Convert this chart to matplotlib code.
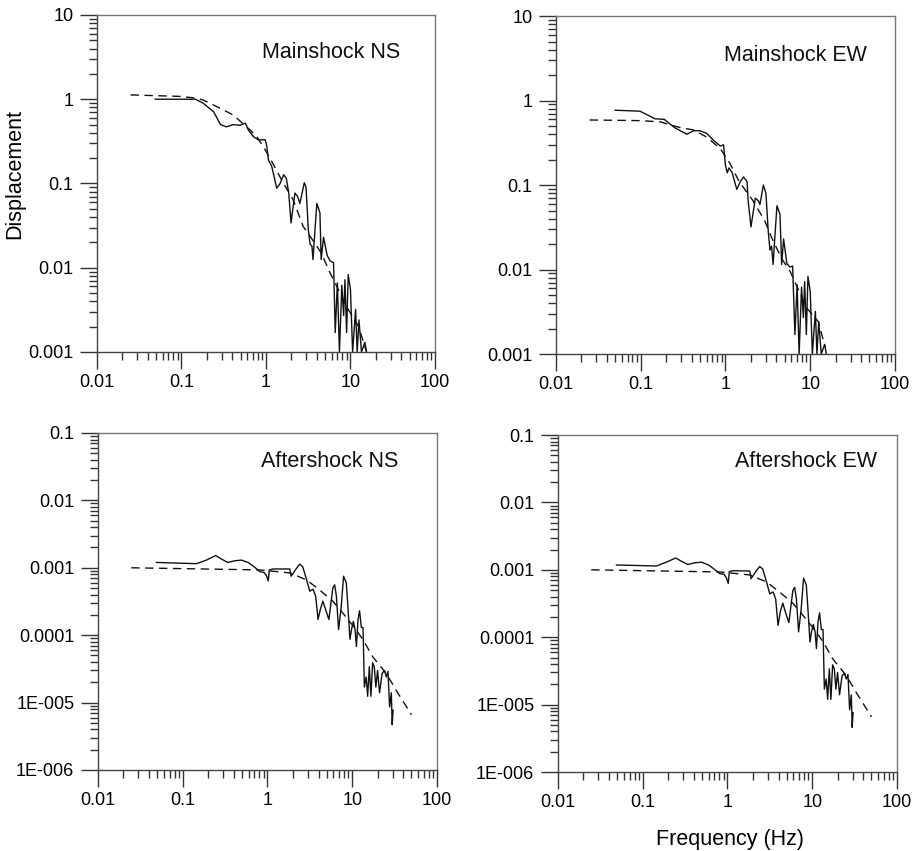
import numpy as np
import matplotlib
matplotlib.use("Agg")
import matplotlib.pyplot as plt
from matplotlib.ticker import LogLocator, FixedLocator, FixedFormatter, NullFormatter

plt.rcParams['font.family'] = ['Liberation Sans', 'DejaVu Sans']

# ---- mainshock NS ----
ms_ns_f = [0.049, 0.146, 0.18, 0.24, 0.29, 0.34, 0.41, 0.49, 0.57, 0.62, 0.71, 0.81, 0.98,
           1.02, 1.07, 1.17, 1.34, 1.47, 1.62, 1.74, 1.86, 1.98, 2.2, 2.37, 2.52, 2.84, 2.98,
           3.17, 3.33, 3.5, 3.6, 3.8, 4.0, 4.35, 4.5, 4.8, 5.3, 5.75, 6.3, 6.6, 7.0, 7.4, 7.9,
           8.3, 8.6, 9.0, 9.4, 10.0, 10.6, 11.0, 11.5, 12.0, 12.6, 13.5, 14.8, 15.5]
ms_ns_a = [1.0, 1.0, 0.90, 0.71, 0.50, 0.47, 0.50, 0.49, 0.52, 0.43, 0.36, 0.33, 0.33,
           0.28, 0.19, 0.16, 0.088, 0.10, 0.127, 0.115, 0.077, 0.034, 0.077, 0.070, 0.058, 0.102, 0.09,
           0.028, 0.019, 0.018, 0.0125, 0.028, 0.058, 0.045, 0.0125, 0.023, 0.014, 0.012, 0.0115, 0.0017, 0.0066, 0.001, 0.0062,
           0.0027, 0.0072, 0.0017, 0.0083, 0.0055, 0.001, 0.0017, 0.0032, 0.001, 0.0024, 0.001, 0.0013, 0.001]
ms_ns_model_f = [0.025, 0.097, 0.15, 0.18, 0.26, 0.41, 0.65, 0.78, 0.98, 1.2, 1.53, 2.1, 2.75,
                 3.78, 4.5, 5.7, 9.4, 12.5, 15.5]
ms_ns_model_a = [1.125, 1.08, 1.03, 0.98, 0.82, 0.65, 0.43, 0.36, 0.25, 0.175, 0.11, 0.064, 0.031,
                 0.0196, 0.015, 0.0088, 0.0032, 0.0020, 0.0010]

# ---- mainshock EW ----
ms_ew_f = [0.05, 0.098, 0.147, 0.19, 0.25, 0.35, 0.42, 0.5, 0.6, 0.72, 0.87, 0.95, 1.0,
           1.05, 1.1, 1.2, 1.36, 1.5, 1.63, 1.8, 1.85, 2.0, 2.25, 2.45, 2.55, 2.8, 3.0,
           3.2, 3.35, 3.5, 3.65, 3.8, 4.05, 4.4, 4.6, 4.85, 5.3, 5.75, 6.2, 6.6, 7.0, 7.4,
           7.9, 8.3, 8.6, 9.0, 9.4, 10.0, 10.6, 11.0, 11.5, 12.0, 12.6, 13.5, 14.8, 15.5]
ms_ew_a = [0.77, 0.75, 0.61, 0.60, 0.48, 0.40, 0.44, 0.44, 0.41, 0.34, 0.29, 0.30, 0.17,
           0.14, 0.16, 0.14, 0.089, 0.11, 0.125, 0.11, 0.066, 0.032, 0.07, 0.065, 0.059, 0.1, 0.08,
           0.028, 0.017, 0.019, 0.0115, 0.022, 0.057, 0.045, 0.0115, 0.023, 0.0118, 0.0107, 0.011, 0.0017, 0.0066, 0.001,
           0.0062, 0.0027, 0.0072, 0.0017, 0.0083, 0.0055, 0.001, 0.0017, 0.0032, 0.001, 0.0024, 0.001, 0.0013, 0.001]
ms_ew_model_f = [0.025, 0.098, 0.17, 0.29, 0.42, 0.6, 0.87, 1.13, 1.45, 2.1, 2.9, 3.5, 4.6,
                 5.8, 9.1, 12.5, 15.0]
ms_ew_model_a = [0.59, 0.58, 0.56, 0.48, 0.45, 0.37, 0.27, 0.18, 0.11, 0.066, 0.038, 0.024, 0.0135,
                 0.0095, 0.0035, 0.0024, 0.0012]

# ---- aftershock NS ----
as_ns_f = [0.049, 0.145, 0.19, 0.245, 0.28, 0.34, 0.41, 0.49, 0.59, 0.68, 0.81, 0.91, 0.97,
           1.02, 1.05, 1.16, 1.83, 1.9, 2.2, 2.4, 2.6, 2.9, 3.15, 3.45, 3.7, 3.95, 4.2,
           4.5, 4.85, 5.3, 5.9, 6.2, 6.5, 6.9, 7.4, 7.9, 8.5, 8.9, 9.4, 9.8, 10.3, 10.8,
           11.2, 11.7, 12.2, 12.8, 13.4, 13.9, 14.6, 15.2, 15.9, 16.6, 17.4, 18.2, 19.0,
           19.9, 21.0, 22.5, 24.0, 25.2, 26.4, 27.6, 28.9, 29.6, 30.3]
as_ns_a = [1.2e-3, 1.15e-3, 1.30e-3, 1.52e-3, 1.37e-3, 1.2e-3, 1.27e-3, 1.30e-3, 1.20e-3, 1.06e-3, 8.8e-4, 8.5e-4, 7.7e-4,
           6.4e-4, 9.3e-4, 9.6e-4, 9.6e-4, 7.5e-4, 9.8e-4, 1.13e-3, 1.04e-3, 6.6e-4, 4.5e-4, 4.8e-4, 3.8e-4, 1.71e-4, 2.4e-4,
           3.2e-4, 2.4e-4, 1.71e-4, 5.0e-4, 5.6e-4, 3.8e-4, 1.21e-4, 2.6e-4, 7.5e-4, 6.0e-4, 2.6e-4, 8.7e-5, 1.21e-4, 1.6e-4, 1.21e-4,
           6.8e-5, 1.7e-4, 2.3e-4, 1.3e-4, 1.3e-4, 1.7e-5, 2.4e-5, 1.24e-5, 3.4e-5, 1.24e-5, 3.9e-5, 3.4e-5, 1.7e-5,
           3.0e-5, 1.4e-5, 2.7e-5, 3.0e-5, 2.4e-5, 2.9e-5, 8.6e-6, 1.4e-5, 4.7e-6, 7.7e-6]
as_ns_model_f = [0.0247, 0.81, 1.83, 2.9, 4.1, 5.9, 7.8, 10.3, 13.4, 17.4, 25.2, 33.2, 50.0]
as_ns_model_a = [1.0e-3, 9.3e-4, 8.4e-4, 6.6e-4, 4.7e-4, 3.2e-4, 2.1e-4, 1.36e-4, 8.6e-5, 4.8e-5, 2.7e-5, 1.5e-5, 6.6e-6]

# ---- aftershock EW ----
as_ew_f = list(as_ns_f)
as_ew_a = [1.18e-3, 1.14e-3, 1.30e-3, 1.50e-3, 1.36e-3, 1.2e-3, 1.27e-3, 1.30e-3, 1.19e-3, 1.05e-3, 8.8e-4, 8.6e-4, 7.6e-4,
           6.3e-4, 9.4e-4, 9.7e-4, 9.6e-4, 7.4e-4, 9.8e-4, 1.12e-3, 1.03e-3, 6.5e-4, 4.4e-4, 4.7e-4, 3.7e-4, 1.5e-4, 2.4e-4,
           3.2e-4, 2.3e-4, 1.65e-4, 4.9e-4, 5.5e-4, 3.7e-4, 1.2e-4, 2.6e-4, 7.5e-4, 6.0e-4, 2.6e-4, 8.5e-5, 1.2e-4, 1.55e-4, 1.2e-4,
           6.8e-5, 1.7e-4, 2.3e-4, 1.3e-4, 1.3e-4, 1.7e-5, 2.4e-5, 1.2e-5, 3.4e-5, 1.2e-5, 3.9e-5, 3.4e-5, 1.7e-5,
           3.0e-5, 1.4e-5, 2.7e-5, 2.9e-5, 2.4e-5, 2.8e-5, 8.4e-6, 1.4e-5, 4.6e-6, 7.6e-6]
as_ew_model_f = list(as_ns_model_f)
as_ew_model_a = list(as_ns_model_a)

x_ticks = [0.01, 0.1, 1, 10, 100]
x_labels = ["0.01", "0.1", "1", "10", "100"]
ms_yticks = [0.001, 0.01, 0.1, 1, 10]
ms_ylabels = ["0.001", "0.01", "0.1", "1", "10"]
as_yticks = [1e-6, 1e-5, 1e-4, 1e-3, 1e-2, 1e-1]
as_ylabels = ["1E-006", "1E-005", "0.0001", "0.001", "0.01", "0.1"]

panels = [
    ("Mainshock NS", ms_ns_f, ms_ns_a, ms_ns_model_f, ms_ns_model_a, ms_yticks, ms_ylabels,
     [0.1054, 0.5864, 0.3674, 0.396], (0.896, 0.89)),
    ("Mainshock EW", ms_ew_f, ms_ew_a, ms_ew_model_f, ms_ew_model_a, ms_yticks, ms_ylabels,
     [0.6043, 0.5840, 0.3685, 0.397], (0.917, 0.885)),
    ("Aftershock NS", as_ns_f, as_ns_a, as_ns_model_f, as_ns_model_a, as_yticks, as_ylabels,
     [0.1065, 0.0952, 0.3685, 0.396], (0.885, 0.914)),
    ("Aftershock EW", as_ew_f, as_ew_a, as_ew_model_f, as_ew_model_a, as_yticks, as_ylabels,
     [0.6065, 0.0928, 0.3685, 0.396], (0.94, 0.92)),
]

fig = plt.figure(figsize=(9.2, 8.51), dpi=100)
axes = []
for title, f, a, mf, ma, yt, yl, rect, tpos in panels:
    ax = fig.add_axes(rect)
    ax.set_xscale('log')
    ax.set_yscale('log')
    ax.plot(f, a, color='#111111', lw=1.0)
    ax.plot(mf, ma, color='#111111', lw=1.0, dashes=(6, 4))
    ax.set_xlim(0.01, 100)
    ax.set_ylim(yt[0], yt[-1])
    ax.xaxis.set_major_locator(FixedLocator(x_ticks))
    ax.xaxis.set_major_formatter(FixedFormatter(x_labels))
    ax.yaxis.set_major_locator(FixedLocator(yt))
    ax.yaxis.set_major_formatter(FixedFormatter(yl))
    ax.xaxis.set_minor_locator(LogLocator(base=10, subs=np.arange(2, 10), numticks=20))
    ax.yaxis.set_minor_locator(LogLocator(base=10, subs=np.arange(2, 10), numticks=20))
    ax.xaxis.set_minor_formatter(NullFormatter())
    ax.yaxis.set_minor_formatter(NullFormatter())
    ax.tick_params(which='major', direction='out', length=12, width=1.0, color='#333333',
                   labelsize=13, pad=4, top=False, right=False)
    ax.tick_params(which='minor', direction='out', length=5.5, width=1.0, color='#333333',
                   top=False, right=False)
    ax.tick_params(axis='y', which='major', pad=5)
    for s in ax.spines.values():
        s.set_color('#444444')
        s.set_linewidth(1.0)
    for s in ('top', 'right'):
        ax.spines[s].set_color('#777777')
    ax.text(tpos[0], tpos[1], title, transform=ax.transAxes, ha='right', va='center',
            fontsize=15.5, color='#111111')
    axes.append(ax)

axes[0].set_ylabel("Displacement", fontsize=15.5)
axes[0].yaxis.set_label_coords(-0.213, 0.528)
axes[3].set_xlabel("Frequency (Hz)", fontsize=15.5)
axes[3].xaxis.set_label_coords(0.507, -0.168)

fig.savefig("out.png", dpi=100)
